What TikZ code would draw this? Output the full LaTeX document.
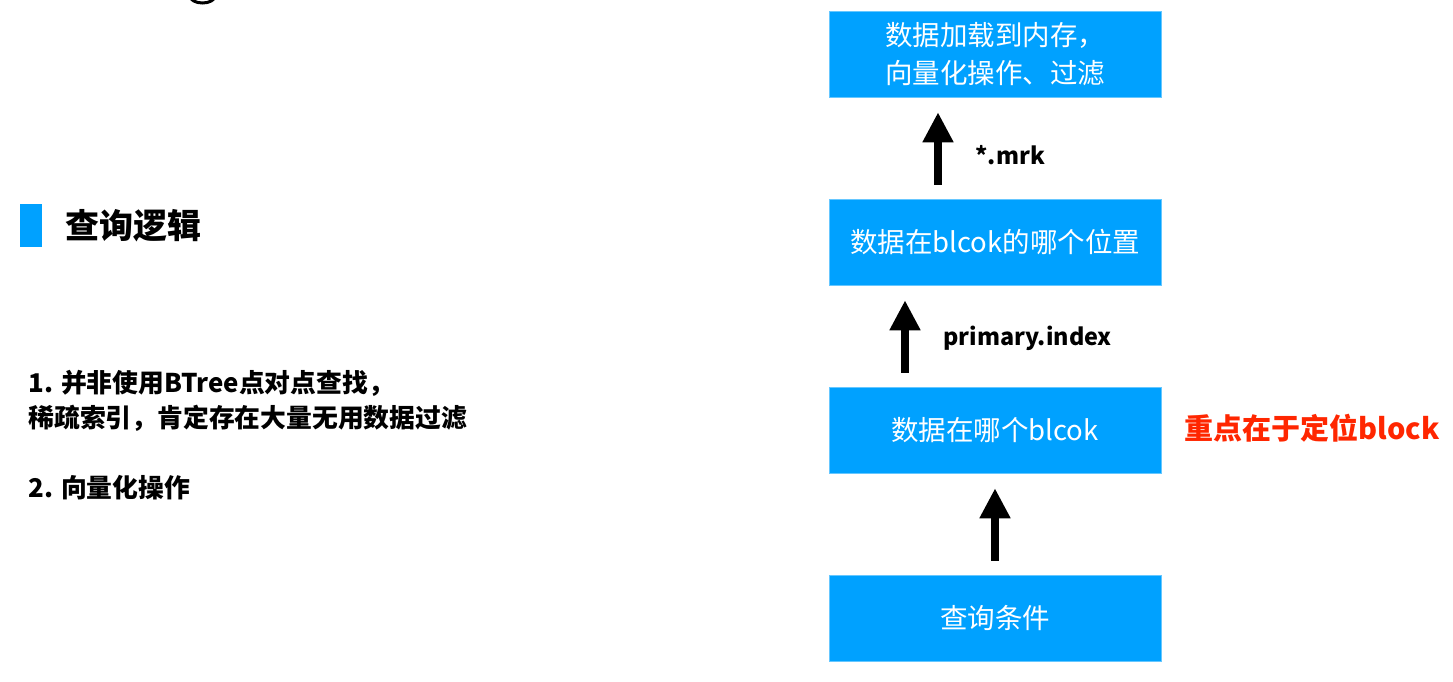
\documentclass[tikz,border=0pt]{standalone}
\usepackage{fontspec}
\setmainfont{Noto Sans CJK SC}
\usetikzlibrary{arrows.meta}
\definecolor{boxblue}{RGB}{0,161,255}
\definecolor{hlred}{RGB}{255,38,0}
\begin{document}
\begin{tikzpicture}[x=1pt,y=-1pt,
  blk/.style={fill=boxblue, draw=boxblue!60, line width=0.5pt, minimum width=332pt, minimum height=86pt, text=white, font=\fontsize{27.5}{38}\selectfont, align=center, inner sep=0pt},
  uparrow/.style={line width=8pt, -{Triangle[width=29pt,length=30pt]}, shorten <=14pt, shorten >=15pt},
  lbl/.style={font=\bfseries\fontsize{23.4}{26}\selectfont, anchor=west},
  body/.style={font=\bfseries\fontsize{25.8}{30}\selectfont, anchor=west}]
\useasboundingbox (0,0) rectangle (1453,681);
\begin{scope}
\clip (0,0) rectangle (1453,681);
\draw[line width=3pt] (190,-4) arc[start angle=180, end angle=360, x radius=12.5, y radius=-7];
\end{scope}
% title
\node[fill=boxblue, minimum width=22pt, minimum height=43pt, inner sep=0pt] (bar) at (31,225.5) {};
\node[font=\bfseries\fontsize{34}{38}\selectfont, anchor=west] (title) at (62,226) {查询逻辑};
% left text
\node[body] (t1) at (25,383) {1. 并非使用BTree点对点查找，};
\node[body] (t2) at (25,418) {稀疏索引，肯定存在大量无用数据过滤};
\node[body] (t3) at (25,488) {2. 向量化操作};
% boxes
\node[blk] (b1) at (995,54) {数据加载到内存，\\向量化操作、过滤};
\node[blk] (b2) at (995,242) {数据在blcok的哪个位置};
\node[blk] (b3) at (995,430) {数据在哪个blcok};
\node[blk] (b4) at (995,618) {查询条件};
% arrows
\draw[uparrow] ([xshift=-57pt]b2.north) -- ([xshift=-57pt]b1.south);
\draw[uparrow] ([xshift=-90pt]b3.north) -- ([xshift=-90pt]b2.south);
\draw[uparrow] (b4.north) -- (b3.south);
% labels
\node[lbl] (l1) at (972,155) {*.mrk};
\node[lbl] (l2) at (940,338) {primary.index};
\node[font=\bfseries\fontsize{29}{32}\selectfont, text=hlred, anchor=west] (note) at (1181,428) {重点在于定位block};
\end{tikzpicture}
\end{document}
